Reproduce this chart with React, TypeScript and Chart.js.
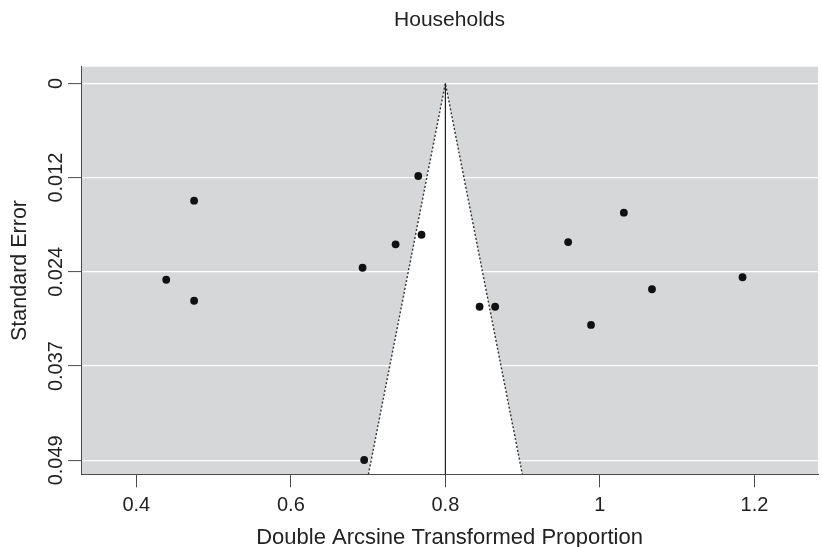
import React, { useEffect, useRef } from "react";
import { Chart, registerables } from "chart.js";

Chart.register(...registerables);

// Study-level data (double arcsine transformed proportion, standard error)
const studyEstimates = [0.4748, 0.4387, 0.4748, 0.6928, 0.7356, 0.7649, 0.7691, 0.8443, 0.8644, 0.6949, 1.031, 0.9589, 1.1846, 1.0674, 0.9885];
const studyStandardErrors = [0.01526, 0.02553, 0.02826, 0.02397, 0.02093, 0.01205, 0.01968, 0.02904, 0.02904, 0.04896, 0.01682, 0.02063, 0.02521, 0.02677, 0.03141];

// Pooled estimate and funnel parameters
const pooledEstimate = 0.8;
const zCritical = 1.96;

// Axes
const seTickValues = [0, 0.01225, 0.0245, 0.03675, 0.049];
const seTickLabels = ["0", "0.012", "0.024", "0.037", "0.049"];
const xTickValues = [0.4, 0.6, 0.8, 1.0, 1.2];
const xTickLabels = ["0.4", "0.6", "0.8", "1", "1.2"];
const seAxisRange = [-0.00216, 0.05082];
const xAxisRange = [0.3284, 1.2824];

const FONT = "'Liberation Sans', Arial, Helvetica, sans-serif";
const TEXT = "#222222";
const AXIS = "#4a4a4a";
const PANEL = "#d6d7d9";

export default function App() {
  const canvasRef = useRef<HTMLCanvasElement | null>(null);

  useEffect(() => {
    if (!canvasRef.current) return;
    const seMax = seAxisRange[1];
    const points = studyEstimates.map((x, i) => ({ x, y: studyStandardErrors[i] }));
    const funnel = [
      { x: pooledEstimate - zCritical * seMax, y: seMax },
      { x: pooledEstimate, y: 0 },
      { x: pooledEstimate + zCritical * seMax, y: seMax },
    ];
    const centerLine = [
      { x: pooledEstimate, y: 0 },
      { x: pooledEstimate, y: seMax },
    ];

    const panelPlugin = {
      id: "panelBg",
      beforeDraw(chart: any) {
        const { ctx, chartArea } = chart;
        ctx.save();
        ctx.fillStyle = PANEL;
        ctx.fillRect(chartArea.left, chartArea.top, chartArea.right - chartArea.left, chartArea.bottom - chartArea.top);
        ctx.restore();
      },
    };

    const chart = new Chart(canvasRef.current, {
      type: "scatter",
      data: {
        datasets: [
          {
            label: "Studies",
            data: points,
            pointRadius: 3.9,
            pointHoverRadius: 3.9,
            pointBackgroundColor: "#111111",
            pointBorderColor: "#111111",
            pointBorderWidth: 0,
            showLine: false,
          } as any,
          {
            label: "Centre",
            data: centerLine,
            showLine: true,
            borderColor: "#222222",
            borderWidth: 1.2,
            pointRadius: 0,
            fill: false,
          } as any,
          {
            label: "Funnel",
            data: funnel,
            showLine: true,
            borderColor: "#333333",
            borderWidth: 1.4,
            borderDash: [2, 2],
            pointRadius: 0,
            backgroundColor: "#ffffff",
            fill: { value: seAxisRange[1] },
            tension: 0,
          } as any,
        ],
      },
      options: {
        animation: false,
        responsive: true,
        maintainAspectRatio: false,
        layout: { padding: 0 },
        plugins: {
          legend: { display: false },
          tooltip: { enabled: false },
          title: {
            display: true,
            text: "Households",
            fullSize: false,
            color: TEXT,
            font: { family: FONT, size: 21, weight: "normal", lineHeight: 1.2 },
            padding: { top: 8, bottom: 33.5 },
          },
        },
        scales: {
          x: {
            type: "linear",
            min: xAxisRange[0],
            max: xAxisRange[1],
            afterBuildTicks: (scale: any) => {
              scale.ticks = xTickValues.map((v) => ({ value: v }));
            },
            afterFit: (scale: any) => {
              scale.height = 72.7;
            },
            grid: {
              drawOnChartArea: false,
              drawTicks: true,
              tickLength: 13,
              tickColor: AXIS,
              tickWidth: 1,
            },
            border: { display: true, color: AXIS, width: 1 },
            ticks: {
              autoSkip: false,
              maxRotation: 0,
              minRotation: 0,
              padding: 6,
              color: TEXT,
              font: { family: FONT, size: 20 },
              callback: (_v: any, i: number) => xTickLabels[i],
            },
            title: {
              display: true,
              text: "Double Arcsine Transformed Proportion",
              color: TEXT,
              font: { family: FONT, size: 22, lineHeight: 0.85 },
              padding: 0,
            },
          },
          y: {
            type: "linear",
            reverse: true,
            min: seAxisRange[0],
            max: seAxisRange[1],
            afterBuildTicks: (scale: any) => {
              scale.ticks = seTickValues.map((v) => ({ value: v }));
            },
            afterFit: (scale: any) => {
              scale.width = 81;
            },
            grid: {
              drawOnChartArea: true,
              color: "#ffffff",
              lineWidth: 1.2,
              drawTicks: true,
              tickLength: 13,
              tickColor: AXIS,
              tickWidth: 1,
            },
            border: { display: true, color: AXIS, width: 1 },
            ticks: {
              autoSkip: false,
              minRotation: 90,
              maxRotation: 90,
              crossAlign: "center",
              padding: -13.5,
              color: TEXT,
              font: { family: FONT, size: 20 },
              callback: (_v: any, i: number) => seTickLabels[i],
            },
            title: {
              display: true,
              text: "Standard Error",
              color: TEXT,
              font: { family: FONT, size: 21.5, lineHeight: 1.2 },
              padding: { top: 7, bottom: 0 },
            },
          },
        },
      } as any,
      plugins: [panelPlugin],
    });

    return () => chart.destroy();
  }, []);

  return (
    <div style={{ position: "absolute", left: 0, top: 0, width: 822, height: 547, background: "#ffffff" }}>
      <canvas ref={canvasRef} />
    </div>
  );
}
